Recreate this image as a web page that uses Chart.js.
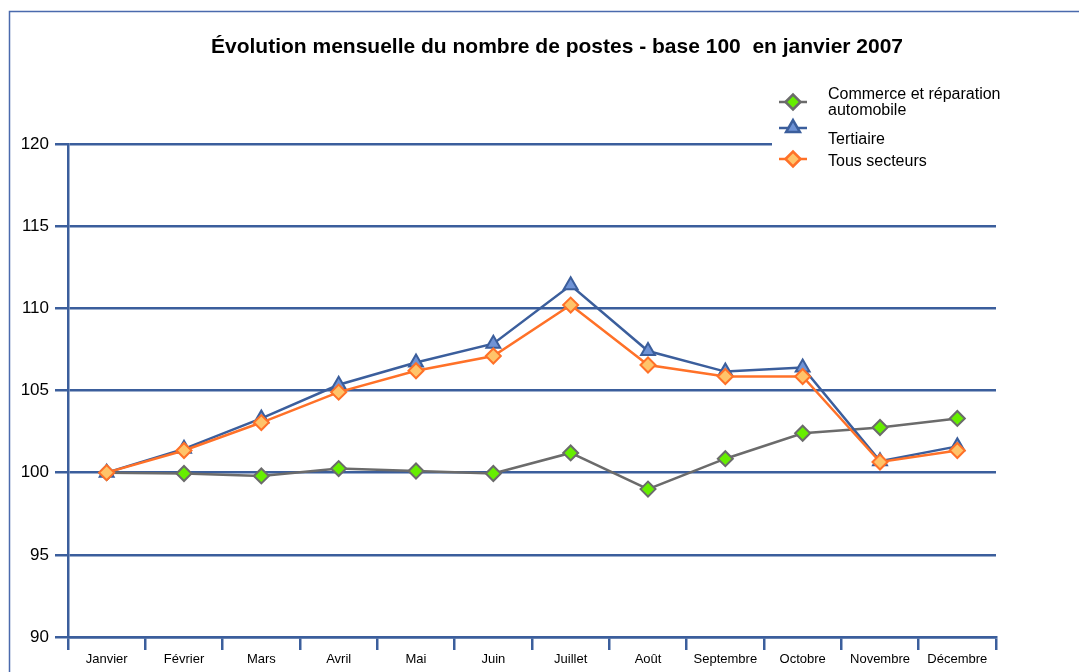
<!DOCTYPE html>
<html lang="fr">
<head>
<meta charset="utf-8">
<title>Évolution mensuelle du nombre de postes</title>
<script src="https://cdn.jsdelivr.net/npm/chart.js@4.4.0/dist/chart.umd.min.js"></script>
<style>
  html, body { margin: 0; padding: 0; background: #fff; }
  #wrap { position: relative; width: 1079px; height: 672px; }
</style>
</head>
<body>
<div id="wrap"><canvas id="c"></canvas></div>
<script>
// ── Data ───────────────────────────────────────────────
const MONTHS = ['Janvier', 'Février', 'Mars', 'Avril', 'Mai', 'Juin',
                'Juillet', 'Août', 'Septembre', 'Octobre', 'Novembre', 'Décembre'];
const COMMERCE  = [100, 99.95, 99.8, 100.25, 100.1, 99.95, 101.2, 99.0, 100.85, 102.4, 102.75, 103.3];
const TERTIAIRE = [100, 101.45, 103.3, 105.35, 106.7, 107.85, 111.4, 107.4, 106.15, 106.4, 100.7, 101.6];
const TOUS      = [100, 101.35, 103.05, 104.9, 106.2, 107.1, 110.2, 106.55, 105.85, 105.85, 100.65, 101.35];
const Y_MIN = 90, Y_MAX = 120, Y_STEP = 5;

const TITLE = 'Évolution mensuelle du nombre de postes - base 100  en janvier 2007';
const FONT  = '"Liberation Sans", Arial, sans-serif';
const AXIS_BLUE = '#3b5e9c';

// ── Series styles ──────────────────────────────────────
const SERIES = [
  { label: 'Tous secteurs', data: TOUS, line: '#ff7128', fill: '#ffc46a', edge: '#ff7128', shape: 'rectRot', r: 7.5 },
  { label: 'Tertiaire',     data: TERTIAIRE, line: '#3b5e9c', fill: '#6f93d6', edge: '#3b5e9c', shape: 'triangle', r: 8 },
  { label: ['Commerce et réparation', 'automobile'], data: COMMERCE, line: '#6b6b6b', fill: '#66ee00', edge: '#6b6b6b', shape: 'rectRot', r: 7.5 },
];
const LEGEND_ORDER = [2, 1, 0];

// ── Plugins ────────────────────────────────────────────
const _framePlugin = {
  id: 'frame',
  beforeDraw(chart) {
    const { ctx } = chart;
    ctx.save();
    ctx.strokeStyle = '#4a6aad';
    ctx.lineWidth = 1.5;
    ctx.beginPath();
    ctx.moveTo(1080, 11.5);
    ctx.lineTo(9.5, 11.5);
    ctx.lineTo(9.5, 673);
    ctx.stroke();
    ctx.fillStyle = '#000';
    ctx.font = `bold 21px ${FONT}`;
    ctx.textAlign = 'center';
    ctx.textBaseline = 'middle';
    ctx.fillText(TITLE, 557, 47);
    ctx.restore();
  },
};

function _marker(ctx, s, x, y) {
  Chart.helpers.drawPoint(ctx, {
    pointStyle: s.shape, radius: s.r, borderWidth: 2, rotation: 0,
  }, x, y);
}

const _legendPlugin = {
  id: 'customLegend',
  afterDraw(chart) {
    const { ctx } = chart;
    ctx.save();
    ctx.fillStyle = '#fff';
    ctx.fillRect(772, 80, 240, 100);
    const rows = [
      { mk: 102, txt: [95, 111] },
      { mk: 128, txt: [140] },
      { mk: 159, txt: [162] },
    ];
    LEGEND_ORDER.forEach((si, i) => {
      const s = SERIES[si], row = rows[i];
      ctx.strokeStyle = s.line;
      ctx.lineWidth = 2.5;
      ctx.beginPath();
      ctx.moveTo(779, row.mk);
      ctx.lineTo(807, row.mk);
      ctx.stroke();
      ctx.fillStyle = s.fill;
      ctx.strokeStyle = s.edge;
      _marker(ctx, s, 793, row.mk);
      ctx.fillStyle = '#000';
      ctx.font = `16px ${FONT}`;
      ctx.textAlign = 'left';
      ctx.textBaseline = 'middle';
      const lines = Array.isArray(s.label) ? s.label : [s.label];
      lines.forEach((t, k) => ctx.fillText(t, 828, row.txt[k]));
    });
    ctx.restore();
  },
};

// ── Chart ──────────────────────────────────────────────
new Chart(document.getElementById('c'), {
  type: 'line',
  data: {
    labels: MONTHS,
    datasets: SERIES.map(s => ({
      label: Array.isArray(s.label) ? s.label.join(' ') : s.label,
      data: s.data,
      borderColor: s.line,
      borderWidth: 2.5,
      backgroundColor: s.fill,
      pointStyle: s.shape,
      pointRadius: s.r,
      pointBorderWidth: 2,
      pointBorderColor: s.edge,
      pointBackgroundColor: s.fill,
      tension: 0,
    })),
  },
  options: {
    responsive: true,
    maintainAspectRatio: false,
    animation: false,
    layout: { autoPadding: false, padding: { top: 144, right: 83, bottom: 0, left: 0 } },
    plugins: {
      legend: { display: false },
      title: { display: false },
      tooltip: { enabled: false },
    },
    scales: {
      x: {
        offset: true,
        border: { color: AXIS_BLUE, width: 2.5 },
        grid: { offset: true, drawOnChartArea: false, drawTicks: true, tickLength: 13, color: AXIS_BLUE, lineWidth: 2.5 },
        ticks: { color: '#000', font: { family: FONT, size: 13 }, padding: 2, maxRotation: 0, autoSkip: false },
        afterFit: sc => { sc.height = 35; },
      },
      y: {
        min: Y_MIN, max: Y_MAX,
        border: { color: AXIS_BLUE, width: 2.5 },
        grid: { color: AXIS_BLUE, lineWidth: 2.5, tickLength: 13 },
        ticks: { stepSize: Y_STEP, color: '#000', font: { family: FONT, size: 17 }, padding: 6 },
        afterFit: sc => { sc.width = 68; },
      },
    },
  },
  plugins: [_framePlugin, _legendPlugin],
});
</script>
</body>
</html>
